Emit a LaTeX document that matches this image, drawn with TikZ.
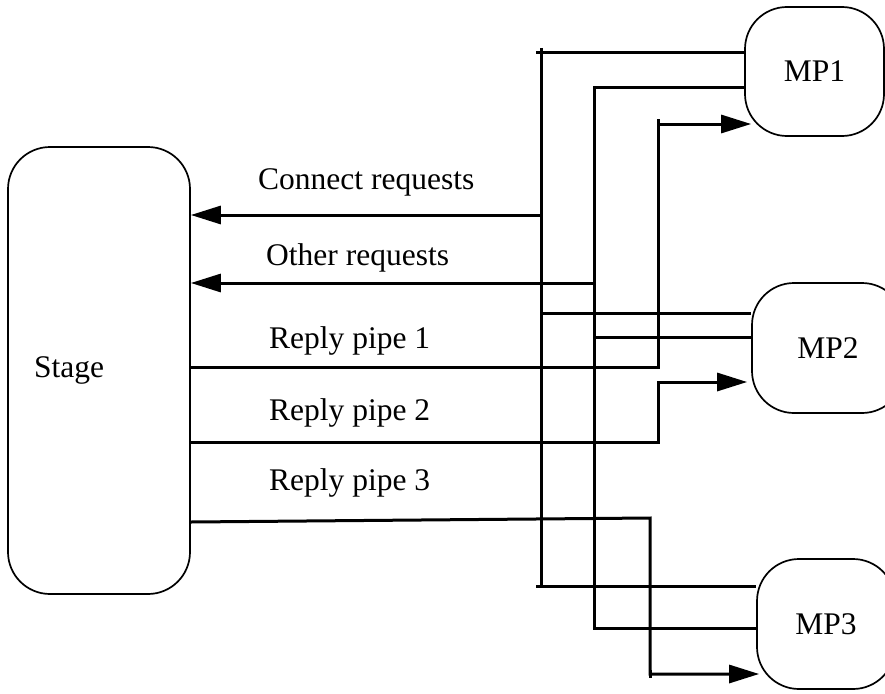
\documentclass[tikz,border=0pt]{standalone}
\usepackage{fontspec}
\setmainfont{Liberation Serif}
\usetikzlibrary{arrows.meta,positioning,calc,backgrounds}

\begin{document}
\begin{tikzpicture}[x=1pt, y=-1pt,
    font=\fontsize{31.5}{36}\selectfont,
    box/.style={draw, line width=1.7pt, rounded corners=42pt, fill=white, inner sep=0pt},
    lbl/.style={anchor=base west, inner sep=0pt},
    wire/.style={line width=3pt},
    pipe/.style={wire, -{Triangle[length=30pt, width=18pt]}}]
    \useasboundingbox (0,0) rectangle (885,693);

    % Stage and the three MP processes
    \node[box, minimum width=182pt, minimum height=447pt, text width=130pt, align=left] (stage) at (99,370.5) {Stage};
    \node[box, minimum width=139pt, minimum height=129pt] (mp1) at (814.5,71.5) {MP1};
    \node[box, minimum width=152pt, minimum height=130pt] (mp2) at (828,348) {MP2};
    \node[box, minimum width=138pt, minimum height=130pt] (mp3) at (826,624) {MP3};

    % Labels above the lines
    \node[lbl] (lconnect) at (258,189) {Connect requests};
    \node[lbl] (lother) at (266,265) {Other requests};
    \node[lbl] (lreply1) at (269,348) {Reply pipe 1};
    \node[lbl] (lreply2) at (269,420) {Reply pipe 2};
    \node[lbl] (lreply3) at (269,490) {Reply pipe 3};

    \begin{scope}[on background layer]
        % Connect requests from every MP
        \draw[wire] (541,48) -- (541,586);
        \draw[wire] (536,53) -- (mp1.west |- 0,53);
        \draw[wire] (541,313) -- (mp2.west |- 0,313);
        \draw[wire] (536,586) -- (mp3.west |- 0,586);
        \draw[pipe] (541,215) -- (stage.east |- 0,215);

        % Other requests from every MP
        \draw[wire] (mp1.west |- 0,87) -| (594,628) -- (mp3.west |- 0,628);
        \draw[wire] (594,337) -- (mp2.west |- 0,337);
        \draw[pipe] (594,283) -- (stage.east |- 0,283);

        % One reply pipe to each MP
        \draw[pipe] (stage.east |- 0,367) -| (658,124) -- ($(mp1.west |- 0,124)+(7,0)$);
        \draw[wire] (658,119) -- (658,126);
        \draw[pipe] (stage.east |- 0,442) -| (658,382) -- ($(mp2.west |- 0,382)+(-4,0)$);
        \draw[pipe] (stage.east |- 0,522) -- (650,518) -- (650,674) -- ($(mp3.west |- 0,674)+(3,0)$);
        \draw[wire] (650,670) -- (650,678);
    \end{scope}
\end{tikzpicture}
\end{document}
